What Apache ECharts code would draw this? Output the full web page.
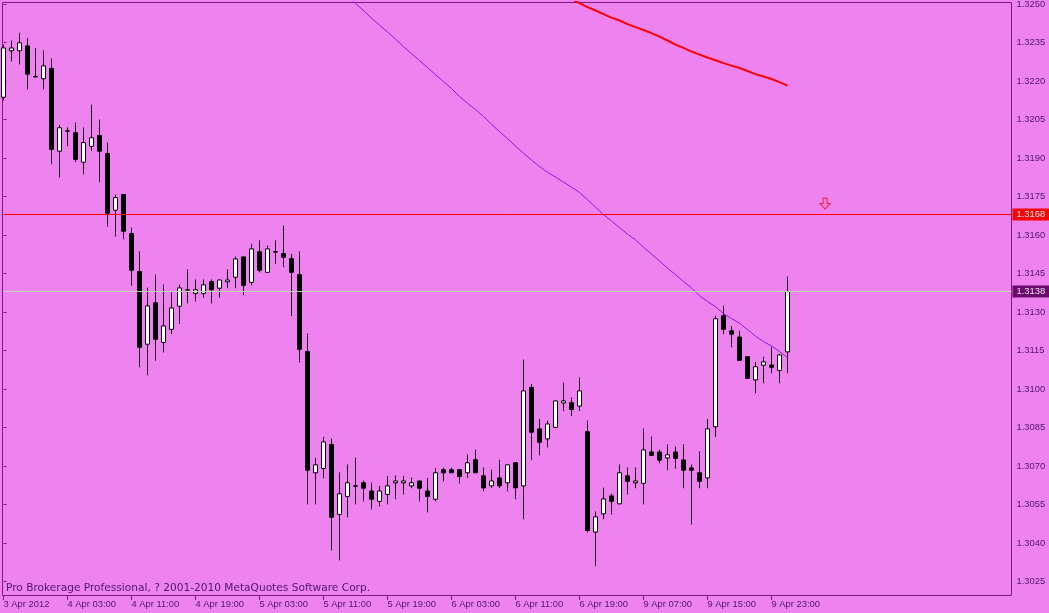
<!DOCTYPE html>
<html>
<head>
<meta charset="utf-8">
<script src="https://cdn.jsdelivr.net/npm/echarts@6/dist/echarts.min.js"></script>
<style>
html,body{margin:0;padding:0;background:#EE82EE;}
#chart{width:1049px;height:613px;}
</style>
</head>
<body>
<div id="chart"></div>
<script>
// ---- data (H1 candles) ----
const tickLabels = ["3 Apr 2012","4 Apr 03:00","4 Apr 11:00","4 Apr 19:00","5 Apr 03:00","5 Apr 11:00","5 Apr 19:00","6 Apr 03:00","6 Apr 11:00","6 Apr 19:00","9 Apr 07:00","9 Apr 15:00","9 Apr 23:00"];
const yTicks = [1.3025,1.3040,1.3055,1.3070,1.3085,1.3100,1.3115,1.3130,1.3145,1.3160,1.3175,1.3190,1.3205,1.3220,1.3235,1.3250];

const opens = [1.32137,1.32318,1.32318,1.32337,1.32218,1.32209,1.32249,1.31927,1.32006,1.31999,
1.31884,1.31946,1.31988,1.31918,1.31697,1.31758,1.31606,1.31458,1.31175,1.31336,
1.31182,1.31233,1.31323,1.31387,1.31373,1.31373,1.31419,1.31393,1.31418,1.31436,
1.31515,1.31416,1.31535,1.31455,1.31535,1.31528,1.31508,1.31446,1.31146,1.30674,
1.30691,1.30784,1.30512,1.30582,1.30623,1.30635,1.30603,1.30563,1.30590,1.30635,
1.30635,1.30623,1.30642,1.30603,1.30571,1.30686,1.30686,1.30686,1.30674,1.30725,
1.30662,1.30623,1.30654,1.30635,1.30713,1.30623,1.31006,1.30845,1.30806,1.30851,
1.30946,1.30947,1.30934,1.30834,1.30443,1.30514,1.30584,1.30553,1.30662,1.30635,
1.30633,1.30755,1.30755,1.30732,1.30755,1.30724,1.30693,1.30674,1.30654,1.30853,
1.31286,1.31227,1.31203,1.31126,1.31036,1.31093,1.31094,1.31073,1.31145];
const closes = [1.32329,1.32329,1.32349,1.32227,1.32216,1.32259,1.31934,1.32018,1.32005,1.31895,
1.31960,1.31979,1.31927,1.31685,1.31746,1.31615,1.31463,1.31163,1.31324,1.31194,
1.31246,1.31316,1.31394,1.31386,1.31387,1.31406,1.31387,1.31425,1.31425,1.31507,
1.31404,1.31546,1.31463,1.31546,1.31534,1.31514,1.31455,1.31155,1.30684,1.30705,
1.30794,1.30501,1.30592,1.30635,1.30622,1.30614,1.30571,1.30603,1.30623,1.30642,
1.30642,1.30635,1.30614,1.30582,1.30674,1.30674,1.30674,1.30660,1.30713,1.30674,
1.30615,1.30642,1.30623,1.30705,1.30615,1.30993,1.30832,1.30793,1.30864,1.30954,
1.30954,1.30921,1.30993,1.30449,1.30502,1.30572,1.30563,1.30674,1.30641,1.30642,
1.30763,1.30742,1.30723,1.30744,1.30730,1.30684,1.30684,1.30641,1.30845,1.31274,
1.31233,1.31214,1.31112,1.31042,1.31087,1.31106,1.31085,1.31133,1.31380];
const lows = [1.32124,1.32277,1.32265,1.32168,1.32214,1.32168,1.31876,1.31825,1.31946,1.31884,
1.31837,1.31927,1.31806,1.31633,1.31595,1.31584,1.31403,1.31085,1.31054,1.31111,
1.31143,1.31214,1.31253,1.31334,1.31342,1.31355,1.31334,1.31355,1.31393,1.31393,
1.31365,1.31404,1.31455,1.31453,1.31488,1.31475,1.31284,1.31104,1.30551,1.30551,
1.30653,1.30372,1.30333,1.30501,1.30551,1.30563,1.30532,1.30543,1.30551,1.30571,
1.30590,1.30614,1.30563,1.30520,1.30563,1.30641,1.30673,1.30633,1.30654,1.30673,
1.30602,1.30615,1.30615,1.30602,1.30571,1.30493,1.30723,1.30742,1.30773,1.30850,
1.30914,1.30896,1.30915,1.30442,1.30310,1.30493,1.30512,1.30552,1.30590,1.30614,
1.30551,1.30741,1.30711,1.30684,1.30691,1.30614,1.30473,1.30614,1.30614,1.30813,
1.31214,1.31163,1.31111,1.31041,1.30984,1.31023,1.31062,1.31023,1.31062];
const highs = [1.32342,1.32358,1.32388,1.32368,1.32329,1.32319,1.32288,1.32029,1.32019,1.32038,
1.32019,1.32108,1.32050,1.31960,1.31758,1.31760,1.31629,1.31536,1.31395,1.31446,
1.31407,1.31376,1.31407,1.31466,1.31427,1.31427,1.31427,1.31426,1.31466,1.31516,
1.31516,1.31566,1.31579,1.31559,1.31579,1.31637,1.31527,1.31536,1.31216,1.30732,
1.30814,1.30807,1.30675,1.30706,1.30733,1.30644,1.30635,1.30623,1.30662,1.30663,
1.30662,1.30655,1.30643,1.30654,1.30693,1.30694,1.30694,1.30687,1.30745,1.30764,
1.30694,1.30686,1.30725,1.30706,1.30714,1.31115,1.31019,1.30884,1.30877,1.30955,
1.31025,1.30967,1.31045,1.30877,1.30523,1.30616,1.30593,1.30706,1.30694,1.30694,
1.30846,1.30815,1.30764,1.30784,1.30776,1.30784,1.30706,1.30757,1.30884,1.31286,
1.31325,1.31246,1.31227,1.31127,1.31106,1.31126,1.31163,1.31137,1.31438];

const maFastStart = 43;
const maFast = [1.32529,1.32502,1.32475,1.32445,1.32418,1.32391,1.32364,1.32334,1.32307,1.32280,
1.32253,1.32225,1.32198,1.32171,1.32140,1.32114,1.32089,1.32062,1.32032,1.32003,
1.31976,1.31947,1.31919,1.31892,1.31867,1.31845,1.31826,1.31806,1.31787,1.31766,
1.31738,1.31709,1.31680,1.31655,1.31629,1.31604,1.31581,1.31553,1.31526,1.31499,
1.31471,1.31446,1.31419,1.31394,1.31364,1.31341,1.31321,1.31294,1.31275,1.31257,
1.31232,1.31206,1.31185,1.31168,1.31146,1.31123];
const maSlowStart = 71;
const maSlow = [1.32519,1.32504,1.32488,1.32475,1.32461,1.32447,1.32436,1.32422,1.32410,1.32399,
1.32387,1.32373,1.32358,1.32342,1.32329,1.32315,1.32303,1.32292,1.32281,1.32270,
1.32260,1.32251,1.32239,1.32227,1.32218,1.32208,1.32196,1.32182];

const askPrice = 1.3168;
const bidPrice = 1.3138;
const arrowPoint = [102.7, 1.31723];
const slotCount = 127;
const footerText = "Pro Brokerage Professional, ? 2001-2010 MetaQuotes Software Corp.";

// ---- build ----
const categories = [];
for (let i = 0; i < slotCount; i++) categories.push(String(i));
const candles = opens.map((o, i) => [o, closes[i], lows[i], highs[i]]);
const pad = (start, arr) => new Array(start).fill(null).concat(arr);

const txt = '#4c1672';
const frame = '#7d1a7d';
const axisFont = "'Liberation Sans', Arial, sans-serif";
const axisSize = 9.4;
const showIdx = (i) => i % 8 === 0 && i / 8 < tickLabels.length;

const chart = echarts.init(document.getElementById('chart'), null, {renderer: 'canvas'});
chart.setOption({
  animation: false,
  backgroundColor: '#EE82EE',
  title: {
    text: footerText, left: 6, top: 583, padding: 0,
    textStyle: {fontSize: 10.6, fontWeight: 'normal', fontFamily: "'DejaVu Sans', sans-serif", color: txt}
  },
  grid: {left: 3.5, right: 37.5, top: 2, bottom: 17, show: false, containLabel: false, outerBoundsMode: 'none'},
  graphic: [{
    type: 'rect', z: 0, silent: true,
    shape: {x: 2.5, y: 2.5, width: 1009, height: 593},
    style: {fill: 'none', stroke: frame, lineWidth: 1}
  }],
  xAxis: [{
    type: 'category', data: categories, boundaryGap: false,
    axisLine: {show: false},
    axisTick: {show: true, interval: showIdx, length: 4, lineStyle: {color: frame}},
    axisLabel: {
      interval: showIdx, align: 'left', margin: 4, fontSize: axisSize, fontFamily: axisFont, color: txt,
      formatter: (v, i) => tickLabels[Math.round(Number(v) / 8)] || ''
    },
    splitLine: {show: false}
  }, {
    type: 'value', min: 0, max: slotCount - 1, show: false
  }],
  yAxis: {
    type: 'value', position: 'right', min: 1.30194, max: 1.32508,
    axisLine: {show: false},
    axisTick: {show: true, customValues: yTicks, length: 3, lineStyle: {color: frame}},
    axisLabel: {customValues: yTicks, margin: 5, fontSize: axisSize, fontFamily: axisFont, color: txt,
      formatter: (v) => Number(v).toFixed(4)},
    splitLine: {show: false}
  },
  series: [{
    type: 'candlestick', data: candles, barWidth: 4, clip: false,
    itemStyle: {color: '#ffffff', color0: '#000000', borderColor: '#000000', borderColor0: '#000000', borderColorDoji: '#000000', borderWidth: 1},
    markLine: {
      silent: true, symbol: 'none', animation: false, precision: 5,
      label: {position: 'end', distance: 1, fontSize: axisSize, fontFamily: axisFont, padding: [2, 4, 1, 4],
        formatter: (p) => Number(p.value).toFixed(4)},
      data: [
        {yAxis: askPrice, lineStyle: {color: '#ff0000', width: 1, type: 'solid'},
          label: {backgroundColor: '#ff0000', color: '#ffe8e8'}},
        {yAxis: bidPrice, lineStyle: {color: '#bcd4b4', width: 1.2, type: 'solid'},
          label: {backgroundColor: '#6a0a6a', color: '#f4dcf4'}}
      ]
    }
  }, {
    type: 'line', data: pad(maFastStart, maFast), showSymbol: false, symbol: 'none',
    lineStyle: {color: '#8a1ee0', width: 1}, z: 3
  }, {
    type: 'line', data: pad(maSlowStart, maSlow), showSymbol: false, symbol: 'none',
    lineStyle: {color: '#ff0000', width: 2}, z: 3
  }, {
    type: 'scatter', xAxisIndex: 1, data: [arrowPoint],
    symbol: 'path://M3,0 L7,0 L7,5 L10,5 L5,10 L0,5 L3,5 Z', symbolSize: [10, 11],
    itemStyle: {color: 'rgba(0,0,0,0)', borderColor: '#ff0000', borderWidth: 1}
  }]
});
</script>
</body>
</html>
